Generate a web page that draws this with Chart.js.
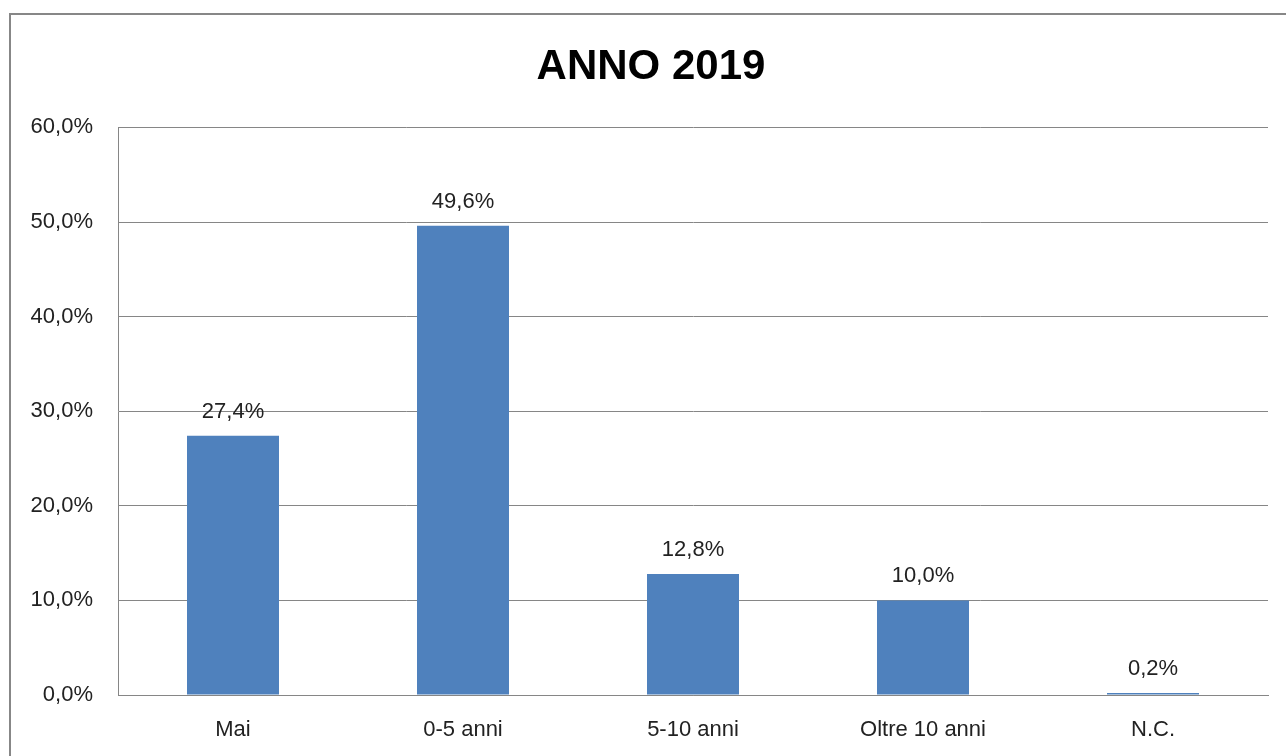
<!DOCTYPE html>
<html>
<head>
<meta charset="utf-8">
<script src="https://cdn.jsdelivr.net/npm/chart.js@4"></script>
<style>
  html, body { margin: 0; padding: 0; background: #fff; }
  #wrap { width: 1286px; height: 756px; }
</style>
</head>
<body>
<div id="wrap"><canvas id="annoChart" width="1286" height="756"></canvas></div>
<script>
const categories = ['Mai', '0-5 anni', '5-10 anni', 'Oltre 10 anni', 'N.C.'];
const percentages = [27.4, 49.6, 12.8, 10.0, 0.2];
const yTicks = [0, 10, 20, 30, 40, 50, 60];

const FONT = '"Liberation Sans", Arial, sans-serif';
const fmt = v => v.toFixed(1).replace('.', ',') + '%';

// cornice grigia e sfondo bianco
const framePlugin = {
  id: 'frame',
  afterLayout(chart) {
    // titolo centrato un po' piu' a destra, come nell'originale
    if (chart.titleBlock) chart.titleBlock.left = 34;
  },
  beforeDraw(chart) {
    const c = chart.ctx;
    c.save();
    c.fillStyle = '#fff';
    c.fillRect(0, 0, chart.width, chart.height);
    c.strokeStyle = '#878787';
    c.lineWidth = 2;
    c.strokeRect(10, 14, chart.width + 10, chart.height + 10);
    c.restore();
  }
};

// etichette sopra le barre
const valueLabels = {
  id: 'valueLabels',
  afterDatasetsDraw(chart) {
    const c = chart.ctx;
    const meta = chart.getDatasetMeta(0);
    c.save();
    c.font = '22px ' + FONT;
    c.fillStyle = '#222';
    c.textAlign = 'center';
    c.textBaseline = 'alphabetic';
    meta.data.forEach((bar, i) => {
      c.fillText(fmt(percentages[i]), bar.x, bar.y - 18);
    });
    c.restore();
  }
};

new Chart(document.getElementById('annoChart'), {
  type: 'bar',
  data: {
    labels: categories,
    datasets: [{
      data: percentages,
      backgroundColor: '#4F81BD',
      borderWidth: 0,
      barPercentage: 0.4,
      categoryPercentage: 1.0
    }]
  },
  options: {
    responsive: false,
    animation: false,
    layout: { padding: { left: 0, right: 18, top: 0, bottom: 0 } },
    plugins: {
      legend: { display: false },
      tooltip: { enabled: false },
      title: {
        display: true,
        text: 'ANNO 2019',
        color: '#000',
        font: { family: FONT, size: 42, weight: 'bold', lineHeight: 1.2 },
        padding: { top: 42, bottom: 35 }
      }
    },
    scales: {
      x: {
        grid: { display: false, drawTicks: false },
        border: { color: '#868686', width: 1 },
        ticks: { color: '#222', font: { family: FONT, size: 22 }, padding: 22 },
        afterFit(scale) { scale.height = 61; }
      },
      y: {
        min: 0,
        max: 60,
        afterBuildTicks(scale) { scale.ticks = yTicks.map(v => ({ value: v })); },
        grid: { color: '#868686', drawTicks: false },
        border: { color: '#868686', width: 1 },
        ticks: {
          color: '#222',
          font: { family: FONT, size: 22 },
          padding: 25,
          callback: v => fmt(v)
        },
        afterFit(scale) { scale.width = 118; }
      }
    }
  },
  plugins: [framePlugin, valueLabels]
});
</script>
</body>
</html>
